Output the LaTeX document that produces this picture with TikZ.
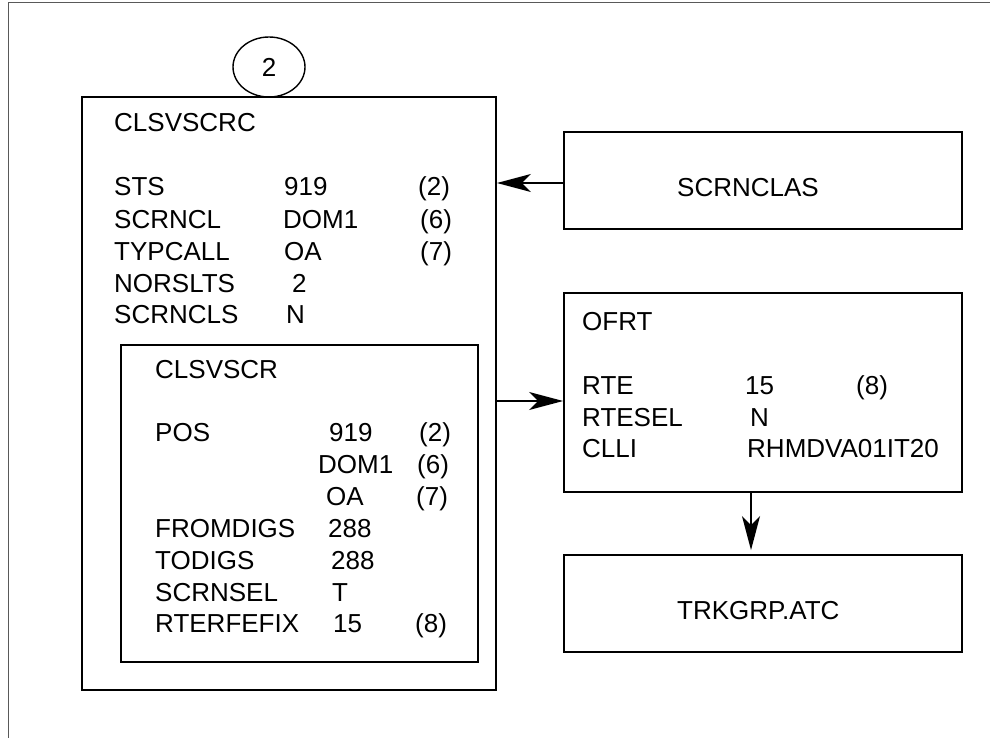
\documentclass[tikz,border=0pt]{standalone}
\usepackage{fontspec}
\setmainfont{Liberation Sans}
\usetikzlibrary{arrows.meta, shapes.geometric}

\tikzset{
  tbl/.style={draw, line width=1.8pt, rectangle, inner sep=0pt},
  fld/.style={anchor=west, inner sep=0pt, text height=19pt, text depth=0pt},
  link/.style={-{Stealth[length=34pt, width=18pt, inset=9pt]}, line width=1.6pt},
}

\begin{document}
\begin{tikzpicture}[x=1pt, y=-1pt, font=\fontsize{26}{31}\selectfont]
  \useasboundingbox (0,0) rectangle (990,738);
  % page frame
  \draw[black!65, line width=1pt] (8,738) -- (8,3) -- (990,3);

  % tables
  \node[tbl, minimum width=414pt, minimum height=593pt] (clsvscrc) at (289,393.5) {};
  \node[tbl, minimum width=357pt, minimum height=317pt] (clsvscr) at (299.5,503.5) {};
  \node[tbl, minimum width=398pt, minimum height=97pt] (scrnclas) at (763,180.5) {};
  \node[tbl, minimum width=398pt, minimum height=199pt] (ofrt) at (763,392.5) {};
  \node[tbl, minimum width=398pt, minimum height=97pt] (trkgrp) at (763,603.5) {};
  \node[draw, ellipse, line width=1.4pt, minimum width=72pt, minimum height=60pt,
        inner sep=0pt] (tag) at (269,67) {2};

  % CLSVSCRC
  \node[fld] (c-name) at (114,122) {CLSVSCRC};
  \node[fld] (c-sts)  at (114,186) {STS};
  \node[fld] (c-sts-v) at (284,186) {919};
  \node[fld] (c-sts-n) at (418,186) {(2)};
  \node[fld] (c-cl)   at (114,219) {SCRNCL};
  \node[fld] (c-cl-v) at (283,219) {DOM1};
  \node[fld] (c-cl-n) at (420,219) {(6)};
  \node[fld] (c-typ)  at (114,251) {TYPCALL};
  \node[fld] (c-typ-v) at (284,251) {OA};
  \node[fld] (c-typ-n) at (420,251) {(7)};
  \node[fld] (c-nor)  at (114,283) {NORSLTS};
  \node[fld] (c-nor-v) at (292,283) {2};
  \node[fld] (c-cls)  at (114,314) {SCRNCLS};
  \node[fld] (c-cls-v) at (286,314) {N};

  % CLSVSCR
  \node[fld] (s-name) at (155,369) {CLSVSCR};
  \node[fld] (s-pos)  at (155,432) {POS};
  \node[fld] (s-pos-a) at (329,432) {919};
  \node[fld] (s-pos-an) at (419,432) {(2)};
  \node[fld] (s-pos-b) at (318,464) {DOM1};
  \node[fld] (s-pos-bn) at (417,464) {(6)};
  \node[fld] (s-pos-c) at (326,496) {OA};
  \node[fld] (s-pos-cn) at (416,496) {(7)};
  \node[fld] (s-from) at (155,528) {FROMDIGS};
  \node[fld] (s-from-v) at (328,528) {288};
  \node[fld] (s-to)   at (155,560) {TODIGS};
  \node[fld] (s-to-v) at (331,560) {288};
  \node[fld] (s-sel)  at (155,592) {SCRNSEL};
  \node[fld] (s-sel-v) at (332,592) {T};
  \node[fld] (s-rte)  at (155,623) {RTERFEFIX};
  \node[fld] (s-rte-v) at (333,623) {15};
  \node[fld] (s-rte-n) at (415,623) {(8)};

  % OFRT
  \node[fld] (o-name) at (582,321) {OFRT};
  \node[fld] (o-rte)  at (582,385) {RTE};
  \node[fld] (o-rte-v) at (745,385) {15};
  \node[fld] (o-rte-n) at (856,385) {(8)};
  \node[fld] (o-sel)  at (582,417) {RTESEL};
  \node[fld] (o-sel-v) at (750,417) {N};
  \node[fld] (o-clli) at (582,448) {CLLI};
  \node[fld] (o-clli-v) at (747,448) {RHMDVA01IT20};

  % single names
  \node[fld] (scrnclas-t) at (677,187) {SCRNCLAS};
  \node[fld] (trkgrp-t) at (677,610) {TRKGRP.ATC};

  % links
  \coordinate (in1) at (530,183);
  \coordinate (out1) at (530,401);
  \coordinate (down1) at (751,520);
  \draw[link] (in1 -| scrnclas.west) -- (in1 -| clsvscrc.east);
  \draw[link] (out1 -| clsvscrc.east) -- (out1 -| ofrt.west);
  \draw[link, shorten >=4pt] (down1 |- ofrt.south) -- (down1 |- trkgrp.north);
\end{tikzpicture}
\end{document}
